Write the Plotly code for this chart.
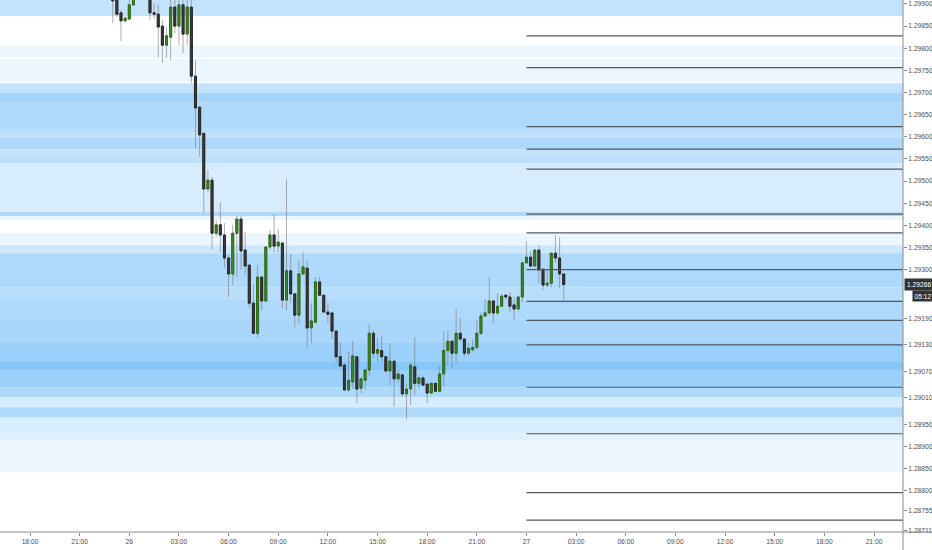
import plotly.graph_objects as go
import pandas as pd

# ---------------- data ----------------
bar_start = "2019-11-25 23:00"   # first visible 15-minute bar
opens = [1.29918, 1.29909, 1.29880, 1.29862, 1.29866, 1.29898, 1.29932, 1.29945, 1.29938, 1.29927,
         1.29880, 1.29877, 1.29850, 1.29807, 1.29825, 1.29893, 1.29850, 1.29898, 1.29832, 1.29893,
         1.29737, 1.29667, 1.29608, 1.29482, 1.29502, 1.29382, 1.29401, 1.29378, 1.29326, 1.29290,
         1.29382, 1.29414, 1.29344, 1.29310, 1.29224, 1.29156, 1.29283, 1.29229, 1.29351, 1.29378,
         1.29353, 1.29360, 1.29231, 1.29297, 1.29245, 1.29197, 1.29290, 1.29303, 1.29168, 1.29181,
         1.29272, 1.29242, 1.29204, 1.29202, 1.29161, 1.29103, 1.29084, 1.29028, 1.29046, 1.29103,
         1.29032, 1.29050, 1.29073, 1.29156, 1.29111, 1.29117, 1.29103, 1.29071, 1.29093, 1.29053,
         1.29062, 1.29019, 1.29030, 1.29080, 1.29043, 1.29055, 1.29041, 1.29021, 1.29043, 1.29025,
         1.29064, 1.29117, 1.29138, 1.29111, 1.29156, 1.29143, 1.29111, 1.29119, 1.29124, 1.29156,
         1.29195, 1.29202, 1.29229, 1.29202, 1.29217, 1.29242, 1.29238, 1.29220, 1.29211, 1.29238,
         1.29315, 1.29328, 1.29308, 1.29344, 1.29301, 1.29265, 1.29269, 1.29337, 1.29326, 1.29290]
highs = [1.29927, 1.29920, 1.29886, 1.29873, 1.29914, 1.29941, 1.29955, 1.29960, 1.29948, 1.29936,
         1.29902, 1.29898, 1.29864, 1.29848, 1.29916, 1.29914, 1.29916, 1.29916, 1.29914, 1.29911,
         1.29773, 1.29667, 1.29608, 1.29525, 1.29509, 1.29412, 1.29452, 1.29405, 1.29333, 1.29401,
         1.29421, 1.29421, 1.29385, 1.29310, 1.29265, 1.29310, 1.29283, 1.29351, 1.29389, 1.29425,
         1.29391, 1.29360, 1.29504, 1.29335, 1.29245, 1.29321, 1.29339, 1.29321, 1.29224, 1.29283,
         1.29283, 1.29242, 1.29224, 1.29202, 1.29161, 1.29136, 1.29089, 1.29114, 1.29138, 1.29103,
         1.29055, 1.29075, 1.29177, 1.29163, 1.29145, 1.29152, 1.29103, 1.29134, 1.29093, 1.29073,
         1.29062, 1.29043, 1.29089, 1.29147, 1.29062, 1.29059, 1.29043, 1.29043, 1.29043, 1.29082,
         1.29161, 1.29163, 1.29138, 1.29211, 1.29190, 1.29143, 1.29134, 1.29141, 1.29186, 1.29204,
         1.29233, 1.29283, 1.29229, 1.29247, 1.29245, 1.29245, 1.29249, 1.29238, 1.29242, 1.29317,
         1.29364, 1.29342, 1.29346, 1.29355, 1.29301, 1.29299, 1.29337, 1.29378, 1.29373, 1.29292]
lows = [1.29857, 1.29871, 1.29816, 1.29859, 1.29864, 1.29895, 1.29925, 1.29930, 1.29920, 1.29864,
        1.29866, 1.29778, 1.29767, 1.29778, 1.29773, 1.29834, 1.29807, 1.29789, 1.29807, 1.29721,
        1.29574, 1.29554, 1.29428, 1.29475, 1.29346, 1.29373, 1.29339, 1.29303, 1.29238, 1.29265,
        1.29283, 1.29299, 1.29288, 1.29213, 1.29154, 1.29145, 1.29208, 1.29227, 1.29344, 1.29339,
        1.29339, 1.29213, 1.29208, 1.29227, 1.29170, 1.29179, 1.29288, 1.29125, 1.29134, 1.29179,
        1.29242, 1.29202, 1.29179, 1.29143, 1.29091, 1.29080, 1.29025, 1.29023, 1.29030, 1.28998,
        1.29021, 1.29028, 1.29059, 1.29100, 1.29091, 1.29091, 1.29068, 1.29039, 1.28991, 1.29046,
        1.29012, 1.28962, 1.28994, 1.29016, 1.29032, 1.29037, 1.28998, 1.29019, 1.29025, 1.29025,
        1.29037, 1.29084, 1.29078, 1.29089, 1.29136, 1.29103, 1.29107, 1.29114, 1.29119, 1.29152,
        1.29193, 1.29199, 1.29179, 1.29197, 1.29215, 1.29231, 1.29204, 1.29186, 1.29208, 1.29227,
        1.29315, 1.29306, 1.29306, 1.29269, 1.29254, 1.29260, 1.29260, 1.29315, 1.29258, 1.29231]
closes = [1.29907, 1.29877, 1.29862, 1.29868, 1.29898, 1.29932, 1.29945, 1.29938, 1.29930, 1.29880,
          1.29877, 1.29848, 1.29807, 1.29828, 1.29893, 1.29850, 1.29898, 1.29832, 1.29893, 1.29737,
          1.29665, 1.29604, 1.29482, 1.29502, 1.29382, 1.29401, 1.29378, 1.29326, 1.29290, 1.29382,
          1.29414, 1.29342, 1.29308, 1.29224, 1.29156, 1.29283, 1.29229, 1.29351, 1.29378, 1.29353,
          1.29362, 1.29231, 1.29297, 1.29245, 1.29197, 1.29290, 1.29306, 1.29168, 1.29184, 1.29272,
          1.29242, 1.29204, 1.29199, 1.29161, 1.29103, 1.29082, 1.29028, 1.29050, 1.29105, 1.29030,
          1.29053, 1.29073, 1.29156, 1.29111, 1.29119, 1.29103, 1.29071, 1.29093, 1.29053, 1.29064,
          1.29019, 1.29030, 1.29084, 1.29043, 1.29055, 1.29039, 1.29021, 1.29043, 1.29025, 1.29064,
          1.29117, 1.29138, 1.29111, 1.29156, 1.29143, 1.29111, 1.29122, 1.29124, 1.29156, 1.29195,
          1.29202, 1.29229, 1.29202, 1.29217, 1.29240, 1.29238, 1.29217, 1.29211, 1.29238, 1.29315,
          1.29328, 1.29308, 1.29344, 1.29299, 1.29265, 1.29269, 1.29337, 1.29326, 1.29290, 1.29266]

# horizontal price levels (drawn from the start of day 27)
level_start = "2019-11-27 00:00"
level_prices = [1.29828, 1.29756, 1.29623, 1.29572, 1.29527, 1.29425, 1.29383, 1.29300,
                1.29228, 1.29185, 1.29130, 1.29034, 1.28929, 1.28796, 1.28734]

# background price-band heat (edges top->bottom, intensity per band 0..6)
band_edges = [1.29930, 1.29873, 1.29807, 1.29780, 1.29776, 1.29724, 1.29721, 1.29699, 1.29678,
              1.29622, 1.29611, 1.29599, 1.29572, 1.29554, 1.29541, 1.29527, 1.29430, 1.29421,
              1.29412, 1.29382, 1.29355, 1.29337, 1.29260, 1.29231, 1.29186, 1.29134, 1.29091,
              1.29073, 1.29034, 1.29012, 1.28989, 1.28967, 1.28930, 1.28915, 1.28842, 1.28680]
band_levels = [3, 0, 1, 0, 1, 0, 3, 4.5, 4, 3.5, 3, 4, 3, 3.3, 2, 2, 4, 1,
               0, 1, 2.5, 4, 3.5, 4, 4.3, 5, 6, 5, 4, 2, 4, 2, 1.5, 1, 0]

last_price = 1.29266
countdown = "05:12"

y_tickvals = [1.29900, 1.29850, 1.29800, 1.29750, 1.29700, 1.29650, 1.29600, 1.29550, 1.29500,
              1.29450, 1.29400, 1.29350, 1.29300, 1.29190, 1.29130, 1.29070, 1.29010, 1.28950,
              1.28900, 1.28850, 1.28800, 1.28755, 1.28711]
y_ticktext = ["%.5f" % v for v in y_tickvals]

x_tickvals = ["2019-11-25 18:00", "2019-11-25 21:00", "2019-11-26 00:00", "2019-11-26 03:00",
              "2019-11-26 06:00", "2019-11-26 09:00", "2019-11-26 12:00", "2019-11-26 15:00",
              "2019-11-26 18:00", "2019-11-26 21:00", "2019-11-27 00:00", "2019-11-27 03:00",
              "2019-11-27 06:00", "2019-11-27 09:00", "2019-11-27 12:00", "2019-11-27 15:00",
              "2019-11-27 18:00", "2019-11-27 21:00"]
x_ticktext = ["18:00", "21:00", "26", "03:00", "06:00", "09:00", "12:00", "15:00", "18:00",
              "21:00", "27", "03:00", "06:00", "09:00", "12:00", "15:00", "18:00", "21:00"]

x_range = ["2019-11-25 16:11:13", "2019-11-27 22:45:07"]
y_range = [1.28707, 1.29909]

# ---------------- figure ----------------
times = pd.date_range(bar_start, periods=len(opens), freq="15min")
body_hi = [max(o, c) for o, c in zip(opens, closes)]
body_lo = [min(o, c) for o, c in zip(opens, closes)]

FONT = "Liberation Sans"
wick_col = "rgba(120,120,120,0.6)"

fig = go.Figure()

# wicks
fig.add_trace(go.Candlestick(
    x=times, open=opens, high=highs, low=lows, close=closes,
    increasing=dict(line=dict(color=wick_col, width=1), fillcolor=wick_col),
    decreasing=dict(line=dict(color=wick_col, width=1), fillcolor=wick_col),
    whiskerwidth=0, showlegend=False, hoverinfo="skip"))
# bodies
fig.add_trace(go.Candlestick(
    x=times, open=opens, high=body_hi, low=body_lo, close=closes,
    increasing=dict(line=dict(color="#2c6a16", width=1), fillcolor="#3f8a22"),
    decreasing=dict(line=dict(color="#262626", width=1), fillcolor="#3d3d3d"),
    whiskerwidth=0, showlegend=False))

# levels
lx, ly = [], []
for p in level_prices:
    lx += [level_start, "2019-11-28 06:00", None]
    ly += [p, p, None]
fig.add_trace(go.Scatter(x=lx, y=ly, mode="lines", line=dict(color="#505966", width=1.2),
                         showlegend=False, hoverinfo="skip"))

shapes = []
for i, lev in enumerate(band_levels):
    if lev <= 0:
        continue
    a = 0.09 * lev
    r = round(255 * (1 - a) + 33 * a)
    g = round(255 * (1 - a) + 150 * a)
    b = round(255 * (1 - a) + 243 * a)
    shapes.append(dict(type="rect", xref="paper", yref="y", x0=0, x1=1,
                       y0=band_edges[i + 1], y1=band_edges[i],
                       fillcolor="rgb(%d,%d,%d)" % (r, g, b), line=dict(width=0), layer="below"))
# panel borders
shapes.append(dict(type="line", xref="paper", yref="paper", x0=0, x1=932 / 903, y0=0, y1=0,
                   line=dict(color="#8a8a8a", width=1)))
shapes.append(dict(type="line", xref="paper", yref="paper", x0=1, x1=1, y0=-18 / 532, y1=1,
                   line=dict(color="#8a8a8a", width=1)))

annotations = [
    dict(x=1, xref="paper", y=last_price, yref="y", text="%.5f" % last_price, showarrow=False,
         xanchor="left", yanchor="middle", xshift=1, font=dict(family=FONT, size=6.7, color="white"),
         bgcolor="#333333", borderpad=2),
    dict(x=1, xref="paper", y=last_price, yref="y", text=countdown, showarrow=False,
         xanchor="left", yanchor="middle", xshift=9, yshift=-11,
         font=dict(family=FONT, size=6.7, color="white"), bgcolor="#333333", borderpad=1.5),
]

fig.update_layout(
    width=932, height=550,
    margin=dict(l=0, r=29, t=0, b=18),
    paper_bgcolor="white", plot_bgcolor="white",
    shapes=shapes, annotations=annotations,
    font=dict(family=FONT, size=6.7, color="#4d4d4d"),
    xaxis=dict(type="date", range=x_range, rangeslider=dict(visible=False),
               tickvals=x_tickvals, ticktext=x_ticktext, ticks="outside", ticklen=3,
               tickcolor="#8a8a8a", showgrid=False, zeroline=False, showline=False,
               tickfont=dict(family=FONT, size=6.7, color="#4d4d4d")),
    yaxis=dict(side="right", range=y_range, tickvals=y_tickvals, ticktext=y_ticktext,
               ticks="outside", ticklen=3, tickcolor="#8a8a8a", showgrid=False,
               zeroline=False, showline=False,
               tickfont=dict(family=FONT, size=6.7, color="#4d4d4d")),
    showlegend=False,
)

fig.write_html("out.html", config={"displayModeBar": False},
               post_script="document.body.style.margin='0px';document.body.style.overflow='hidden';")
